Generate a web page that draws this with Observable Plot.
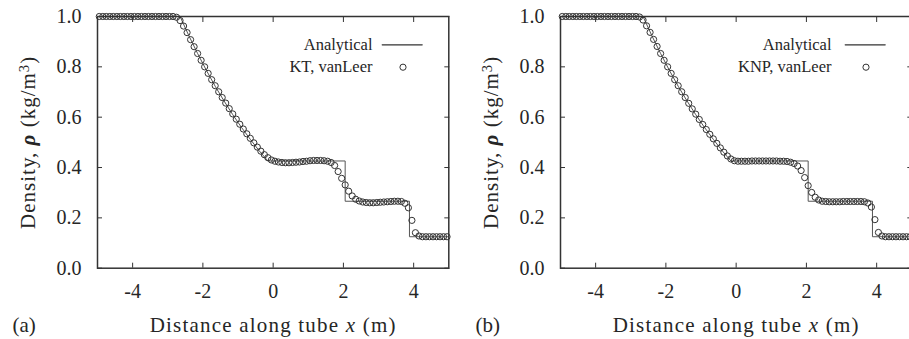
<!DOCTYPE html>
<html><head><meta charset="utf-8">
<script src="https://cdn.jsdelivr.net/npm/d3@7"></script>
<script src="https://cdn.jsdelivr.net/npm/@observablehq/plot@0.6"></script>
<style>
body{margin:0;background:#fff;}
#wrap{position:relative;width:909px;height:339px;overflow:hidden;background:#fff;}
#wrap svg{position:absolute;top:0;font-family:'Liberation Serif' !important;}
#wrap svg text{font-family:'Liberation Serif' !important;}
</style></head><body><div id="wrap"></div>
<script>
// ---- data ----
const xCells = [
 -4.95,-4.85,-4.75,-4.65,-4.55,-4.45,-4.35,-4.25,-4.15,-4.05,
 -3.95,-3.85,-3.75,-3.65,-3.55,-3.45,-3.35,-3.25,-3.15,-3.05,
 -2.95,-2.85,-2.75,-2.65,-2.55,-2.45,-2.35,-2.25,-2.15,-2.05,
 -1.95,-1.85,-1.75,-1.65,-1.55,-1.45,-1.35,-1.25,-1.15,-1.05,
 -0.95,-0.85,-0.75,-0.65,-0.55,-0.45,-0.35,-0.25,-0.15,-0.05,
 0.05,0.15,0.25,0.35,0.45,0.55,0.65,0.75,0.85,0.95,
 1.05,1.15,1.25,1.35,1.45,1.55,1.65,1.75,1.85,1.95,
 2.05,2.15,2.25,2.35,2.45,2.55,2.65,2.75,2.85,2.95,
 3.05,3.15,3.25,3.35,3.45,3.55,3.65,3.75,3.85,3.95,
 4.05,4.15,4.25,4.35,4.45,4.55,4.65,4.75,4.85,4.95
];
const rhoKT = [
 1,1,1,1,1,1,1,1,1,1,
 1,1,1,1,1,1,1,1,1,1,
 1,1,0.997,0.984,0.962,0.936,0.908,0.880,0.853,0.826,
 0.800,0.774,0.749,0.725,0.701,0.678,0.656,0.634,0.613,0.592,
 0.572,0.553,0.534,0.516,0.498,0.481,0.465,0.451,0.439,0.430,
 0.425,0.422,0.420,0.419,0.419,0.420,0.421,0.422,0.424,0.425,
 0.427,0.428,0.428,0.428,0.427,0.425,0.420,0.408,0.384,0.357,
 0.331,0.306,0.287,0.274,0.267,0.263,0.261,0.260,0.260,0.261,
 0.262,0.263,0.264,0.265,0.266,0.266,0.265,0.258,0.240,0.190,
 0.141,0.128,0.125,0.125,0.125,0.125,0.125,0.125,0.125,0.125
];
const rhoKNP = [
 1,1,1,1,1,1,1,1,1,1,
 1,1,1,1,1,1,1,1,1,1,
 1,1,0.998,0.986,0.963,0.937,0.909,0.881,0.853,0.826,
 0.800,0.774,0.749,0.725,0.701,0.678,0.655,0.633,0.612,0.591,
 0.571,0.551,0.532,0.514,0.496,0.478,0.461,0.446,0.434,0.427,
 0.425,0.425,0.425,0.425,0.426,0.426,0.426,0.426,0.426,0.426,
 0.426,0.426,0.425,0.425,0.424,0.421,0.416,0.406,0.388,0.360,
 0.328,0.301,0.282,0.271,0.266,0.265,0.264,0.264,0.264,0.264,
 0.265,0.265,0.265,0.265,0.265,0.265,0.264,0.259,0.243,0.193,
 0.142,0.128,0.125,0.125,0.125,0.125,0.125,0.125,0.125,0.125
];
const exactX   = [-5, -2.65, -2.4, -2.15, -1.9, -1.65, -1.4, -1.15, -0.9, -0.65, -0.4, -0.15, 2.05, 2.05, 3.88, 3.88, 5];
const exactRho = [1, 1, 0.924, 0.853, 0.786, 0.723, 0.665, 0.610, 0.559, 0.512, 0.467, 0.426, 0.426, 0.266, 0.266, 0.125, 0.125];
const xTicks = [-4, -2, 0, 2, 4];
const yTicks = [0, 0.2, 0.4, 0.6, 0.8, 1.0];
const legendExact = "Analytical";
const seriesNames = ["KT, vanLeer", "KNP, vanLeer"];
const panelTags = ["(a)", "(b)"];
const xLabel = "Distance along tube x (m)";
const yLabel = "Density, ρ (kg/m3)";

// ---- layout ----
const layouts = [
  {left: 0,   width: 460, marginLeft: 97,  marginRight: 11.7, legendTextDx: 275},
  {left: 449, width: 470, marginLeft: 111, marginRight: 7.7,  legendTextDx: 271}
];
const INK = "#262626";
const FONT = "Liberation Serif";
const lineShape = {draw(context, l) { context.moveTo(0, 0); context.lineTo(0, -l); }};

function panel(i) {
  const L = layouts[i];
  const rho = i === 0 ? rhoKT : rhoKNP;
  const idx = d3.range(xCells.length);
  const eIdx = d3.range(exactX.length);
  const noText = () => "";
  const svg = Plot.plot({
    width: L.width, height: 339,
    marginLeft: L.marginLeft, marginRight: L.marginRight, marginTop: 16, marginBottom: 71.3,
    style: {fontFamily: FONT, fontSize: "20px", color: INK, background: "transparent", overflow: "visible"},
    x: {domain: [-5, 5], label: null},
    y: {domain: [0, 1], label: null},
    marks: [
      Plot.line(eIdx, {x: exactX, y: exactRho, stroke: "#555", strokeWidth: 1}),
      Plot.dot(idx, {x: xCells, y: rho, r: 3.1, stroke: "#333", strokeWidth: 1, fill: "none"}),
      // tick labels
      Plot.axisX({anchor: "bottom", ticks: xTicks, tickSize: 0, tickPadding: 16, tickFormat: d => String(d), label: null, fontFamily: FONT}),
      Plot.axisY({anchor: "left", ticks: yTicks, tickSize: 0, tickPadding: 16, tickFormat: d3.format(".1f"), label: null, fontFamily: FONT}),
      // inward ticks on all sides
      Plot.axisX({anchor: "bottom", ticks: xTicks, tickSize: 5, dy: -5, tickFormat: noText, label: null, stroke: "#333"}),
      Plot.axisX({anchor: "top", ticks: xTicks, tickSize: 5, dy: 5, tickFormat: noText, label: null, stroke: "#333"}),
      Plot.axisY({anchor: "left", ticks: yTicks, tickSize: 5, dx: 5, tickFormat: noText, label: null, stroke: "#333"}),
      Plot.axisY({anchor: "right", ticks: yTicks, tickSize: 5, dx: -5, tickFormat: noText, label: null, stroke: "#333"}),
      Plot.frame({stroke: "#333", strokeWidth: 1.5}),
      // legend
      Plot.text([legendExact], {text: d => d, frameAnchor: "top-left", dx: L.legendTextDx, dy: 28.3, textAnchor: "end", lineAnchor: "middle", fontSize: 16.5, fontFamily: FONT}),
      Plot.vector([0], {frameAnchor: "top-left", dx: 284.7, dy: 28.3, length: 40, rotate: 90, anchor: "start", shape: lineShape, stroke: "#333", strokeWidth: 1.2}),
      Plot.text([seriesNames[i]], {text: d => d, frameAnchor: "top-left", dx: L.legendTextDx, dy: 50.7, textAnchor: "end", lineAnchor: "middle", fontSize: 16.5, fontFamily: FONT}),
      Plot.dot([0], {frameAnchor: "top-left", dx: 305.5, dy: 50.7, r: 3.1, stroke: "#333", strokeWidth: 1, fill: "none"}),
      // axis titles and panel tag
      Plot.text([xLabel], {text: d => d, frameAnchor: "bottom", dy: 57.3, textAnchor: "middle", lineAnchor: "middle", fontSize: 21, fontFamily: FONT}),
      Plot.text([panelTags[i]], {text: d => d, frameAnchor: "bottom-left", dx: -85, dy: 57.3, textAnchor: "start", lineAnchor: "middle", fontSize: 21, fontFamily: FONT}),
      Plot.text([yLabel], {text: d => d, frameAnchor: "left", dx: -69, rotate: -90, textAnchor: "middle", lineAnchor: "middle", fontSize: 21, fontFamily: FONT})
    ]
  });
  svg.style.left = L.left + "px";
  // rich text: italic math symbols and superscript
  d3.select(svg).selectAll("text").each(function() {
    const t = d3.select(this);
    if (this.textContent === xLabel) {
      t.text(null).attr("letter-spacing", "1.2px");
      t.append("tspan").text("Distance along tube ");
      t.append("tspan").attr("font-style", "italic").text("x");
      t.append("tspan").text(" (m)");
    } else if (this.textContent === yLabel) {
      t.text(null).attr("letter-spacing", "1px");
      t.append("tspan").text("Density, ");
      t.append("tspan").attr("font-style", "italic").attr("font-weight", "bold").text("ρ");
      t.append("tspan").text(" (kg/m");
      t.append("tspan").attr("font-size", "0.7em").attr("dy", "-0.45em").text("3");
      t.append("tspan").attr("dy", "0.31em").text(")");
    }
  });
  return svg;
}

const wrap = document.getElementById("wrap");
wrap.appendChild(panel(0));
wrap.appendChild(panel(1));
</script>
</body></html>
